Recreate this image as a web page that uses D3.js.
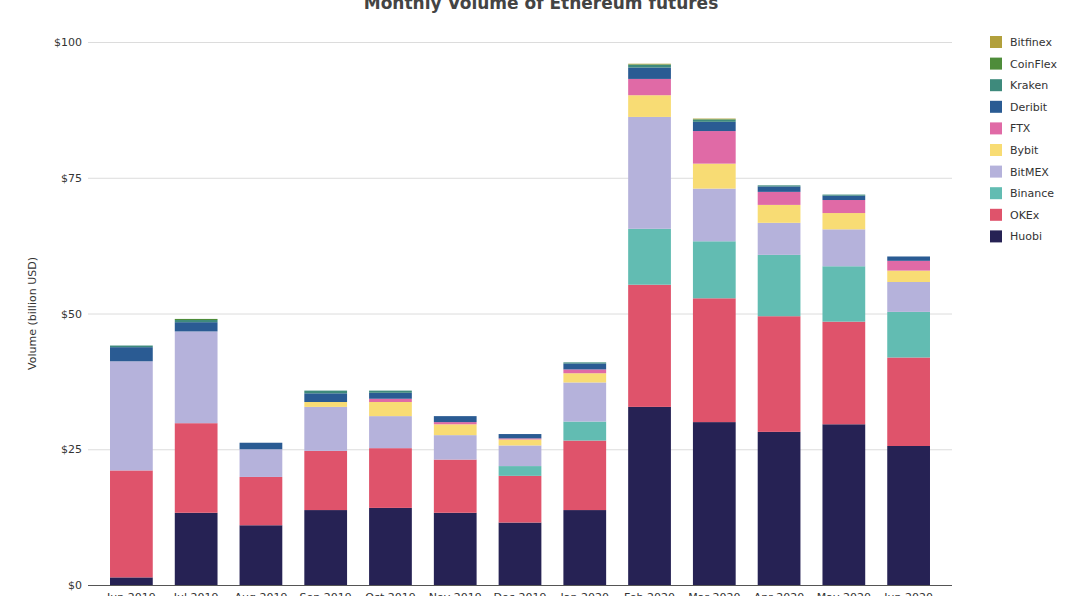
<!DOCTYPE html>
<html>
<head>
<meta charset="utf-8">
<script src="https://cdn.jsdelivr.net/npm/d3@7"></script>
<style>
  body { margin: 0; background: #fff; }
  svg { display: block; font-family: "DejaVu Sans", Verdana, sans-serif; }
</style>
</head>
<body>
<div id="chart"></div>
<script>
const months = ['Jun 2019','Jul 2019','Aug 2019','Sep 2019','Oct 2019','Nov 2019','Dec 2019','Jan 2020','Feb 2020','Mar 2020','Apr 2020','May 2020','Jun 2020'];

// stacking order, bottom first
const exchanges = ['Huobi','OKEx','Binance','BitMEX','Bybit','FTX','Deribit','Kraken','CoinFlex','Bitfinex'];
const colors = ['#262254','#df536b','#62bcb2','#b5b2db','#f8dc74','#e06aa6','#2a5b93','#3e8a7c','#4e8c3a','#b2a03c'];

const huobi    = [1.4, 13.3, 11.0, 13.8, 14.2, 13.3, 11.5, 13.8, 32.8, 30.0, 28.2, 29.6, 25.6];
const okex     = [19.7, 16.5, 8.9, 10.9, 11.0, 9.8, 8.6, 12.8, 22.5, 22.8, 21.3, 18.9, 16.3];
const binance  = [0, 0, 0, 0, 0, 0, 1.8, 3.5, 10.3, 10.5, 11.3, 10.2, 8.4];
const bitmex   = [20.1, 16.9, 5.1, 8.1, 5.9, 4.5, 3.8, 7.2, 20.6, 9.7, 5.9, 6.8, 5.5];
const bybit    = [0, 0, 0, 0.9, 2.6, 2.0, 1.1, 1.7, 4.0, 4.6, 3.3, 3.0, 2.1];
const ftx      = [0, 0, 0, 0, 0.6, 0.4, 0.2, 0.7, 3.0, 6.0, 2.4, 2.4, 1.8];
const deribit  = [2.6, 1.7, 1.2, 1.6, 1.1, 1.1, 0.8, 1.1, 2.1, 1.7, 1.0, 0.8, 0.8];
const kraken   = [0.3, 0.4, 0, 0.5, 0.4, 0, 0, 0.2, 0.5, 0.4, 0.2, 0.2, 0];
const coinflex = [0, 0.2, 0, 0, 0, 0, 0, 0, 0.1, 0.1, 0, 0, 0];
const bitfinex = [0, 0, 0, 0, 0, 0, 0, 0, 0.1, 0.1, 0, 0, 0];

const yTicks = [0, 25, 50, 75, 100];

const series = [huobi, okex, binance, bitmex, bybit, ftx, deribit, kraken, coinflex, bitfinex];

const width = 1080;
const height = 596;
const plotLeft = 88;
const plotRight = 952;
const plotTop = 42;
const plotBottom = 585;

// table for d3.stack
const table = months.map((m, i) => {
  const row = { month: m };
  exchanges.forEach((e, j) => { row[e] = series[j][i]; });
  return row;
});

const stacked = d3.stack().keys(exchanges)(table);

const xScale = d3.scaleBand()
                 .domain(months)
                 .range([99, 941])
                 .paddingInner(0.34)
                 .paddingOuter(0.17);

const yScale = d3.scaleLinear()
                 .domain([0, 100])
                 .range([plotBottom, plotTop]);

const color = d3.scaleOrdinal().domain(exchanges).range(colors);

const svg = d3.select('#chart')
              .append('svg')
              .attr('width', width)
              .attr('height', height);

// gridlines
svg.append('g')
   .selectAll('line')
   .data(yTicks)
   .enter()
   .append('line')
   .attr('x1', plotLeft)
   .attr('x2', plotRight)
   .attr('y1', d => yScale(d) + 0.5)
   .attr('y2', d => yScale(d) + 0.5)
   .attr('stroke', '#dcdcdc')
   .attr('stroke-width', 1);

// y tick labels
svg.append('g')
   .selectAll('text')
   .data(yTicks)
   .enter()
   .append('text')
   .text(d => '$' + d)
   .attr('x', plotLeft - 6)
   .attr('y', d => yScale(d) + 4)
   .attr('text-anchor', 'end')
   .attr('font-size', '11')
   .attr('fill', '#333');

// stacked bars
svg.append('g')
   .selectAll('g')
   .data(stacked)
   .enter()
   .append('g')
   .attr('fill', d => color(d.key))
   .selectAll('rect')
   .data(d => d)
   .enter()
   .append('rect')
   .attr('x', d => xScale(d.data.month))
   .attr('width', xScale.bandwidth())
   .attr('y', d => yScale(d[1]))
   .attr('height', d => yScale(d[0]) - yScale(d[1]));

// x axis line
svg.append('line')
   .attr('x1', plotLeft)
   .attr('x2', plotRight)
   .attr('y1', plotBottom + 0.5)
   .attr('y2', plotBottom + 0.5)
   .attr('stroke', '#555')
   .attr('stroke-width', 1);

// x labels (cut by the bottom edge, as in the original)
svg.append('g')
   .selectAll('text')
   .data(months)
   .enter()
   .append('text')
   .text(d => d)
   .attr('x', d => xScale(d) + xScale.bandwidth() / 2)
   .attr('y', plotBottom + 16)
   .attr('text-anchor', 'middle')
   .attr('font-size', '11')
   .attr('fill', '#333');

// y axis title
svg.append('text')
   .text('Volume (billion USD)')
   .attr('transform', 'translate(36,' + ((plotTop + plotBottom) / 2) + ') rotate(-90)')
   .attr('text-anchor', 'middle')
   .attr('font-size', '11')
   .attr('fill', '#333');

// title
svg.append('text')
   .text('Monthly Volume of Ethereum futures')
   .attr('x', 541)
   .attr('y', 9)
   .attr('text-anchor', 'middle')
   .attr('font-size', '17')
   .attr('font-weight', 'bold')
   .attr('fill', '#444');

// legend, top entry is last stacked series
const legendItems = exchanges.slice().reverse();
const legend = svg.append('g')
                  .attr('transform', 'translate(990, 36)');

legend.selectAll('rect')
      .data(legendItems)
      .enter()
      .append('rect')
      .attr('x', 0)
      .attr('y', (d, i) => i * 21.6)
      .attr('width', 12)
      .attr('height', 12)
      .attr('fill', d => color(d));

legend.selectAll('text')
      .data(legendItems)
      .enter()
      .append('text')
      .text(d => d)
      .attr('x', 20)
      .attr('y', (d, i) => i * 21.6 + 10)
      .attr('font-size', '11')
      .attr('fill', '#333');
</script>
</body>
</html>
